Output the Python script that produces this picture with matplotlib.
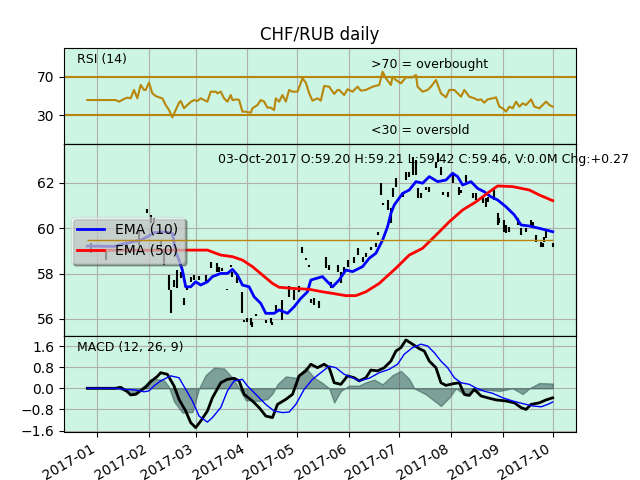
import numpy as np
import matplotlib
matplotlib.use("Agg")
import matplotlib.pyplot as plt

# day offsets are counted from 2017-01-01
base = np.datetime64('2017-01-01')

rsi_days = [-6, 11, 13, 16, 18, 20, 22, 24, 26, 28, 29, 31, 33, 35, 37, 39, 41, 43, 45, 47,
            49, 50, 52, 54, 56, 58, 60, 62, 64, 66, 68, 71, 72, 74, 76, 78, 80, 81, 84, 85,
            87, 89, 92, 93, 96, 98, 100, 102, 104, 106, 107, 109, 111, 113, 115, 117, 120, 123, 125, 127,
            129, 132, 134, 136, 139, 142, 144, 145, 148, 150, 153, 156, 158, 161, 165, 169, 171, 173, 176, 177,
            179, 182, 185, 189, 191, 192, 195, 198, 200, 203, 206, 209, 211, 214, 216, 218, 220, 223, 226, 228,
            230, 232, 234, 237, 239, 241, 243, 245, 247, 249, 251, 253, 255, 257, 260, 262, 265, 269, 271, 273]
rsi_vals = [45.8, 45.8, 44.1, 46.9, 48.3, 47.6, 56.3, 47.6, 61.5, 56.3, 56.3, 63.9, 52.8, 50.0, 48.6, 47.6, 40.6, 35.4, 27.8, 35.4,
            43.0, 44.8, 37.2, 40.6, 43.8, 45.8, 44.8, 47.6, 45.8, 44.1, 54.5, 54.5, 52.8, 54.5, 47.6, 44.1, 51.0, 45.8, 46.5, 45.8,
            33.7, 33.7, 32.6, 37.2, 40.6, 45.8, 44.1, 37.9, 37.9, 35.4, 47.6, 44.1, 51.0, 44.1, 56.3, 54.5, 54.5, 68.4, 63.9, 52.8,
            45.1, 47.6, 45.1, 60.4, 59.7, 52.1, 56.3, 56.3, 51.0, 57.0, 54.5, 59.7, 55.6, 56.3, 59.7, 61.5, 75.3, 68.4, 61.5, 70.1,
            66.7, 63.2, 69.4, 69.4, 71.9, 59.7, 54.5, 56.3, 59.7, 66.7, 52.8, 48.6, 56.3, 56.3, 52.8, 49.3, 56.3, 49.3, 47.6, 45.8,
            46.5, 43.0, 46.5, 47.6, 48.6, 38.9, 37.2, 33.7, 38.9, 37.2, 44.1, 38.9, 42.4, 40.6, 46.5, 38.9, 37.2, 44.1, 40.6, 38.9]

bar_days = [-4, 5, 18, 25, 30, 32, 34, 38, 40, 43, 44, 46, 48, 50, 52, 54, 56, 58, 61, 65,
            68, 72, 73, 75, 78, 80, 81, 84, 87, 88, 90, 92, 93, 95, 101, 104, 105, 107, 111, 115,
            118, 121, 123, 125, 127, 128, 130, 133, 137, 139, 140, 144, 146, 148, 150, 154, 156, 159, 161, 164,
            167, 168, 170, 171, 174, 176, 177, 179, 183, 185, 187, 189, 191, 192, 194, 197, 199, 203, 204, 206,
            207, 210, 213, 217, 218, 221, 225, 227, 231, 233, 234, 238, 240, 241, 244, 245, 247, 252, 254, 257,
            260, 261, 263, 266, 267, 268, 269, 273]
bar_low = [58.91, 58.60, 58.91, 59.26, 60.66, 60.23, 60.23, 59.19, 58.38, 57.28, 56.25, 57.42, 57.35, 57.79, 56.62, 57.28, 57.64, 57.72, 57.72, 57.64,
           58.24, 58.09, 58.09, 58.13, 57.28, 58.31, 57.87, 57.57, 56.25, 55.88, 55.88, 55.73, 55.64, 56.13, 55.84, 55.81, 55.73, 56.25, 55.96, 56.98,
           56.84, 57.20, 58.92, 58.60, 58.28, 56.69, 56.62, 56.47, 58.24, 58.16, 57.35, 58.09, 57.57, 58.01, 58.31, 58.46, 58.82, 58.53, 58.75, 59.04,
           59.19, 59.70, 61.47, 61.03, 60.81, 60.22, 61.39, 61.84, 61.39, 62.13, 62.28, 62.35, 62.35, 61.32, 61.32, 61.69, 61.61, 62.65, 62.94, 62.35,
           61.47, 61.39, 61.99, 61.47, 61.54, 62.06, 61.32, 61.25, 61.10, 60.95, 61.17, 61.25, 60.15, 60.22, 59.85, 59.81, 59.85, 60.15, 59.70, 59.85,
           60.15, 60.07, 59.41, 59.19, 59.16, 59.41, 59.56, 59.19]
bar_high = [59.35, 59.04, 59.35, 59.93, 60.84, 60.59, 60.45, 59.48, 59.04, 57.94, 57.28, 57.72, 58.16, 58.09, 56.91, 57.35, 57.87, 57.94, 57.90, 57.94,
            58.53, 58.46, 58.31, 58.24, 57.32, 58.38, 58.09, 57.94, 57.20, 55.96, 56.06, 56.03, 55.88, 56.22, 55.96, 56.03, 55.88, 56.62, 56.84, 57.45,
            57.28, 57.45, 59.19, 58.68, 58.38, 56.87, 56.91, 56.81, 58.75, 58.38, 57.64, 58.38, 58.09, 58.31, 58.60, 58.75, 59.12, 58.75, 58.90, 59.19,
            59.34, 59.85, 61.99, 61.10, 61.25, 60.88, 61.76, 62.21, 61.61, 62.50, 62.50, 63.16, 63.00, 61.76, 61.54, 61.84, 61.84, 62.94, 63.34, 62.72,
            61.61, 61.61, 62.35, 61.84, 61.69, 62.35, 61.54, 61.54, 61.39, 61.32, 61.39, 61.69, 60.66, 60.44, 60.37, 60.15, 60.07, 60.44, 60.00, 60.00,
            60.37, 60.29, 59.70, 59.41, 59.34, 59.63, 59.93, 59.37]

ema10_days = [-6, 10, 17, 26, 30, 34, 40, 45, 47, 49, 51, 53, 56, 59, 62, 66, 69, 74, 78, 81,
              84, 87, 91, 94, 98, 101, 106, 109, 114, 118, 122, 126, 128, 135, 138, 141, 145, 149, 153, 159,
              163, 167, 169, 171, 174, 176, 178, 183, 187, 191, 195, 199, 204, 209, 213, 216, 219, 224, 228, 232,
              236, 240, 245, 250, 254, 259, 265, 273]
ema10_vals = [59.22, 59.20, 59.34, 59.48, 59.63, 59.81, 59.85, 59.78, 58.97, 58.60, 58.16, 57.42, 57.42, 57.64, 57.50, 57.64, 57.87, 58.01, 58.01, 58.19,
              57.94, 57.50, 57.42, 56.98, 56.69, 56.25, 56.25, 56.40, 56.25, 56.54, 56.91, 57.20, 57.72, 57.87, 57.64, 57.42, 57.72, 58.16, 58.09, 58.31,
              58.68, 58.90, 59.19, 59.48, 60.07, 60.66, 61.03, 61.54, 61.69, 62.06, 61.99, 62.28, 62.06, 62.13, 62.43, 62.28, 61.91, 62.06, 61.76, 61.61,
              61.39, 61.25, 60.95, 60.59, 60.15, 60.10, 60.00, 59.85]

ema50_days = [-6, 66, 74, 81, 87, 93, 99, 105, 109, 117, 127, 135, 141, 149, 155, 161, 169, 179, 187, 195,
              203, 211, 219, 227, 235, 240, 249, 259, 265, 273]
ema50_vals = [59.03, 59.04, 58.82, 58.75, 58.60, 58.31, 57.94, 57.57, 57.40, 57.35, 57.31, 57.20, 57.13, 57.03, 57.03, 57.20, 57.57, 58.24, 58.82, 59.12,
              59.70, 60.29, 60.81, 61.17, 61.61, 61.87, 61.84, 61.69, 61.47, 61.22]

macd_days = [-6, 11, 14, 18, 20, 23, 26, 29, 32, 36, 38, 42, 46, 49, 53, 56, 59, 62, 66, 69,
             74, 78, 82, 85, 88, 93, 97, 101, 105, 108, 113, 117, 121, 125, 128, 132, 136, 139, 142, 146,
             150, 154, 157, 161, 164, 168, 172, 176, 179, 182, 185, 189, 193, 196, 199, 203, 206, 209, 213, 217,
             220, 223, 226, 230, 234, 239, 245, 250, 254, 257, 260, 265, 269, 273]
macd_vals = [0.0, 0.0, 0.04, -0.13, -0.25, -0.23, -0.09, 0.04, 0.25, 0.45, 0.59, 0.53, 0.09, -0.42, -0.86, -1.30, -1.49, -1.24, -0.86, -0.36,
             0.21, 0.34, 0.38, 0.28, -0.23, -0.48, -0.73, -1.05, -1.11, -0.61, -0.42, -0.23, 0.47, 0.66, 0.91, 0.78, 0.91, 0.78, 0.21, 0.15,
             0.47, 0.40, 0.28, 0.40, 0.69, 0.66, 0.78, 1.03, 1.41, 1.54, 1.83, 1.67, 1.50, 1.41, 1.03, 0.78, 0.21, 0.11, 0.17, 0.21,
             -0.23, -0.27, -0.04, -0.29, -0.36, -0.44, -0.48, -0.55, -0.73, -0.80, -0.61, -0.55, -0.44, -0.36]

signal_days = [-6, 11, 16, 22, 28, 31, 34, 38, 44, 49, 53, 57, 61, 66, 69, 74, 78, 82, 87, 90,
               96, 101, 106, 111, 115, 119, 124, 129, 134, 139, 143, 148, 153, 157, 163, 169, 175, 180, 184, 189,
               194, 198, 202, 206, 210, 214, 218, 223, 227, 232, 237, 243, 249, 255, 261, 266, 270, 273]
signal_vals = [0.0, 0.0, -0.04, -0.06, -0.13, -0.10, 0.09, 0.28, 0.47, 0.40, -0.04, -0.48, -1.05, -1.28, -1.11, -0.73, -0.10, 0.28, 0.34, 0.09,
               -0.29, -0.61, -0.86, -0.92, -0.90, -0.61, -0.04, 0.34, 0.59, 0.84, 0.78, 0.53, 0.40, 0.28, 0.38, 0.59, 0.72, 0.91, 1.29, 1.54,
               1.67, 1.60, 1.35, 1.03, 0.78, 0.40, 0.21, 0.15, 0.01, -0.11, -0.19, -0.36, -0.48, -0.58, -0.67, -0.70, -0.61, -0.52]

hist_days = [-6, 12, 17, 20, 23, 26, 29, 32, 36, 40, 43, 46, 51, 57, 61, 65, 70, 76, 81, 85,
             89, 97, 102, 105, 108, 113, 119, 125, 130, 135, 139, 142, 146, 151, 157, 160, 166, 171, 177, 182,
             187, 190, 197, 206, 211, 215, 221, 225, 233, 241, 245, 249, 255, 259, 265, 273]
hist_vals = [0.0, 0.0, -0.10, -0.20, -0.15, 0.0, 0.15, 0.35, 0.35, 0.30, 0.05, -0.50, -0.92, -0.90, 0.0, 0.50, 0.78, 0.75, 0.40, 0.0,
             -0.45, -0.48, -0.40, -0.20, 0.15, 0.45, 0.40, 0.78, 0.40, 0.20, 0.0, -0.54, -0.10, 0.10, 0.10, 0.20, 0.33, 0.15, 0.50, 0.66,
             0.35, 0.0, -0.23, -0.67, -0.35, 0.0, -0.28, -0.10, -0.05, -0.10, -0.05, 0.0, -0.22, 0.0, 0.20, 0.18]

volume_days = [-6, 273]
volume_vals = [0.0, 0.0]


def to_dates(days):
    return base + np.array(days, dtype='timedelta64[D]')


textsize = 9
axescolor = '#ccf5e3'

fig = plt.figure(figsize=(6.4, 4.8), dpi=100, facecolor='white')
left, width = 0.1, 0.8
ax1 = fig.add_axes([left, 0.7, width, 0.2], facecolor=axescolor)
ax2 = fig.add_axes([left, 0.3, width, 0.4], facecolor=axescolor, sharex=ax1)
ax2t = ax2.twinx()
ax3 = fig.add_axes([left, 0.1, width, 0.2], facecolor=axescolor, sharex=ax1)

# RSI panel
fillcolor = 'darkgoldenrod'
rsi_x = to_dates(rsi_days)
rsi = np.array(rsi_vals)
ax1.plot(rsi_x, rsi, color=fillcolor)
ax1.axhline(70, color=fillcolor)
ax1.axhline(30, color=fillcolor)
ax1.fill_between(rsi_x, rsi, 70, where=(rsi >= 70), facecolor=fillcolor, edgecolor=fillcolor)
ax1.fill_between(rsi_x, rsi, 30, where=(rsi <= 30), facecolor=fillcolor, edgecolor=fillcolor)
ax1.text(0.6, 0.9, '>70 = overbought', va='top', transform=ax1.transAxes, fontsize=textsize)
ax1.text(0.6, 0.1, '<30 = oversold', transform=ax1.transAxes, fontsize=textsize)
ax1.set_ylim(0, 100)
ax1.set_yticks([30, 70])
ax1.text(0.025, 0.95, 'RSI (14)', va='top', transform=ax1.transAxes, fontsize=textsize)
ax1.set_title('CHF/RUB daily')

# price panel
ax2.vlines(to_dates(bar_days), bar_low, bar_high, color='black', label='_nolegend_')
ax2.plot(to_dates(ema10_days), ema10_vals, color='blue', lw=2, label='EMA (10)')
ax2.plot(to_dates(ema50_days), ema50_vals, color='red', lw=2, label='EMA (50)')
ax2.text(0.3, 0.9, '03-Oct-2017 O:59.20 H:59.21 L:59.42 C:59.46, V:0.0M Chg:+0.27',
         transform=ax2.transAxes, fontsize=textsize)
leg = ax2.legend(loc='center left', shadow=True, fancybox=True, prop={'size': 10})
leg.get_frame().set_alpha(0.5)
ax2.set_ylim(55.25, 63.72)
ax2.set_yticks([56, 58, 60, 62])

ax2t.fill_between(to_dates(volume_days), volume_vals, 0, facecolor=fillcolor, edgecolor=fillcolor)
ax2t.set_ylim(-1, 1)
ax2t.set_yticks([])

# MACD panel
ax3.plot(to_dates(macd_days), macd_vals, color='black', lw=2)
ax3.plot(to_dates(signal_days), signal_vals, color='blue', lw=1)
ax3.fill_between(to_dates(hist_days), hist_vals, 0, alpha=0.5,
                 facecolor='darkslategrey', edgecolor='darkslategrey')
ax3.text(0.025, 0.95, 'MACD (12, 26, 9)', va='top', transform=ax3.transAxes, fontsize=textsize)
ax3.set_ylim(-1.655, 1.98)
ax3.set_yticks([-1.6, -0.8, 0.0, 0.8, 1.6])

for ax in (ax1, ax2, ax3):
    ax.grid(True)
    ax.set_axisbelow(True)

for ax in (ax1, ax2, ax2t):
    for label in ax.get_xticklabels():
        label.set_visible(False)
for label in ax3.get_xticklabels():
    label.set_rotation(30)
    label.set_horizontalalignment('right')

fig.savefig('out.png', dpi=100)
